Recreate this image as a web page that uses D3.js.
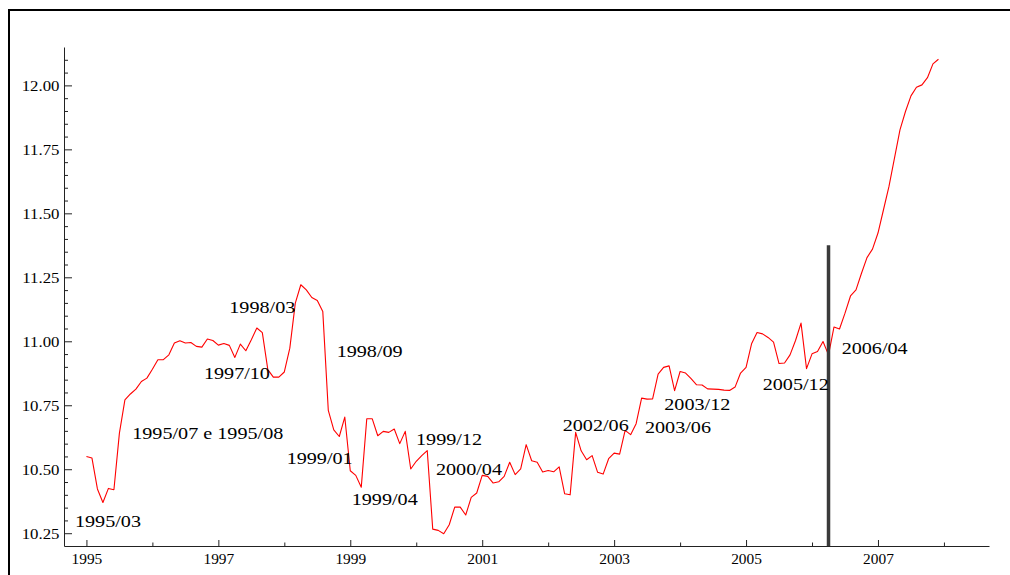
<!DOCTYPE html>
<html>
<head>
<meta charset="utf-8">
<script src="https://cdn.jsdelivr.net/npm/d3@7"></script>
<style>
  html, body { margin: 0; padding: 0; background: #fff; }
  svg { display: block; }
  text { font-family: "Liberation Serif", "Times New Roman", serif; fill: #000; }
</style>
</head>
<body>
<svg id="chart" width="1010" height="575"></svg>
<script>
// Monthly series, January 1995 to December 2007 (one row per year)
const startYear = 1995;
const monthlyValues = [
  10.550, 10.544, 10.423, 10.370, 10.425, 10.420, 10.641, 10.771, 10.794, 10.813, 10.843, 10.856, // 1995
  10.891, 10.928, 10.928, 10.947, 10.993, 11.002, 10.993, 10.995, 10.980, 10.977, 11.009, 11.003, // 1996
  10.985, 10.991, 10.984, 10.937, 10.989, 10.963, 11.006, 11.052, 11.034, 10.889, 10.860, 10.860, // 1997
  10.880, 10.973, 11.149, 11.221, 11.201, 11.171, 11.159, 11.116, 10.730, 10.654, 10.628, 10.704, // 1998
  10.494, 10.476, 10.430, 10.697, 10.697, 10.631, 10.648, 10.644, 10.657, 10.600, 10.648, 10.501, // 1999
  10.531, 10.553, 10.573, 10.266, 10.261, 10.248, 10.283, 10.352, 10.352, 10.321, 10.390, 10.407, // 2000
  10.476, 10.472, 10.446, 10.451, 10.472, 10.527, 10.479, 10.501, 10.596, 10.533, 10.527, 10.489, // 2001
  10.495, 10.490, 10.509, 10.404, 10.400, 10.644, 10.572, 10.537, 10.553, 10.488, 10.481, 10.541, // 2002
  10.563, 10.559, 10.652, 10.635, 10.678, 10.778, 10.774, 10.775, 10.872, 10.898, 10.904, 10.807, // 2003
  10.882, 10.876, 10.854, 10.830, 10.829, 10.814, 10.813, 10.812, 10.809, 10.808, 10.821, 10.876, // 2004
  10.898, 10.990, 11.034, 11.029, 11.015, 10.997, 10.913, 10.915, 10.947, 11.003, 11.071, 10.893, // 2005
  10.951, 10.960, 10.999, 10.947, 11.056, 11.048, 11.110, 11.177, 11.201, 11.266, 11.327, 11.360, // 2006
  11.423, 11.514, 11.605, 11.716, 11.826, 11.898, 11.959, 11.993, 12.002, 12.030, 12.084, 12.102  // 2007
];

// Axis ticks
const xLabelYears = [1995, 1997, 1999, 2001, 2003, 2005, 2007];
const xMinorYears = [1996, 1998, 2000, 2002, 2004, 2006, 2008];
const yMajorTicks = [10.25, 10.50, 10.75, 11.00, 11.25, 11.50, 11.75, 12.00];
const yMinorTicks = d3.range(205, 243).map(i => i / 20)
  .filter(v => !yMajorTicks.some(t => Math.abs(t - v) < 1e-9));

// Vertical marker at April 2006
const markerDate = { year: 2006, month: 4, top: 11.375 };

// Break-date annotations (anchor = left end of the text baseline, in data units)
const annotations = [
  { text: "1995/03",           t: 1994.826, v: 10.274 },
  { text: "1995/07 e 1995/08", t: 1995.694, v: 10.617 },
  { text: "1997/10",           t: 1996.781, v: 10.851 },
  { text: "1998/03",           t: 1997.165, v: 11.112 },
  { text: "1998/09",           t: 1998.793, v: 10.940 },
  { text: "1999/01",           t: 1998.035, v: 10.520 },
  { text: "1999/04",           t: 1999.021, v: 10.360 },
  { text: "1999/12",           t: 1999.996, v: 10.595 },
  { text: "2000/04",           t: 2000.299, v: 10.477 },
  { text: "2002/06",           t: 2002.220, v: 10.651 },
  { text: "2003/06",           t: 2003.467, v: 10.643 },
  { text: "2003/12",           t: 2003.760, v: 10.731 },
  { text: "2005/12",           t: 2005.252, v: 10.810 },
  { text: "2006/04",           t: 2006.449, v: 10.949 }
];

const series = monthlyValues.map((v, i) => ({ t: startYear + i / 12, v }));

const svg = d3.select("#chart");
const axisColor = "#222";

// Outer frame
svg.append("path")
  .attr("d", "M9,575 L9,10 L1010,10")
  .attr("fill", "none")
  .attr("stroke", "#000")
  .attr("stroke-width", 2);

const x = d3.scaleLinear().domain([1994.66, 2008.683]).range([64, 989]);
const y = d3.scaleLinear().domain([10.2, 12.15]).range([546, 47]);

// Y axis: major ticks with labels, minor ticks every 0.05
const yAxis = svg.append("g").attr("transform", "translate(64,0)")
  .call(d3.axisLeft(y).tickValues(yMajorTicks).tickSizeInner(-8).tickSizeOuter(0)
    .tickPadding(4.5).tickFormat(d3.format(".2f")));
svg.append("g").attr("transform", "translate(64,0)")
  .call(d3.axisLeft(y).tickValues(yMinorTicks).tickSizeInner(-4).tickSizeOuter(0).tickFormat(""))
  .call(g => g.select(".domain").remove());

yAxis.selectAll(".tick text")
  .attr("x", null).attr("dy", null)
  .attr("transform", "translate(-4.5,5) scale(1.2,1)")
  .style("font-size", "14px");

// X axis: yearly ticks, odd years labelled
const xAxis = svg.append("g").attr("transform", "translate(0,546)")
  .call(d3.axisBottom(x).tickValues(xLabelYears).tickSizeInner(-6).tickSizeOuter(0)
    .tickFormat(d3.format("d")));
svg.append("g").attr("transform", "translate(0,546)")
  .call(d3.axisBottom(x).tickValues(xMinorYears).tickSizeInner(-3.5).tickSizeOuter(0).tickFormat(""))
  .call(g => g.select(".domain").remove());

xAxis.selectAll(".tick text")
  .attr("y", null).attr("dy", null)
  .attr("transform", "translate(0,17.5) scale(1.1,1)")
  .style("font-size", "14px");

svg.selectAll(".domain, .tick line").attr("stroke", axisColor).attr("stroke-width", 1);

// Series line
svg.append("path")
  .datum(series)
  .attr("fill", "none")
  .attr("stroke", "#ff0000")
  .attr("stroke-width", 1.1)
  .attr("stroke-linejoin", "round")
  .attr("d", d3.line().x(d => x(d.t)).y(d => y(d.v)));

// April 2006 marker
const mt = markerDate.year + (markerDate.month - 1) / 12;
svg.append("line")
  .attr("x1", x(mt)).attr("x2", x(mt))
  .attr("y1", y(10.2)).attr("y2", y(markerDate.top))
  .attr("stroke", "#3a3a3a")
  .attr("stroke-width", 3.5);

// Annotations
svg.append("g").selectAll("text")
  .data(annotations)
  .join("text")
  .attr("transform", d => `translate(${x(d.t)},${y(d.v)}) scale(1.26,1)`)
  .style("font-size", "16px")
  .text(d => d.text);
</script>
</body>
</html>
